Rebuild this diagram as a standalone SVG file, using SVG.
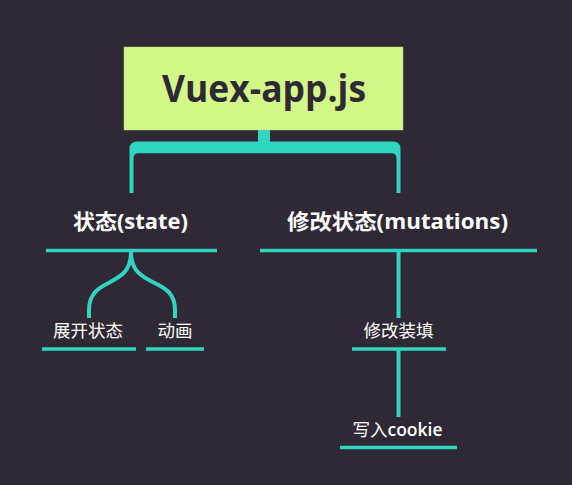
<svg xmlns="http://www.w3.org/2000/svg" width="572" height="485" viewBox="0 0 572 485">
<style>
.line{stroke:#2fd5c1;stroke-width:4;fill:none}
.ul{stroke:#2fd5c1;stroke-width:3.5;fill:none}
.t1{font-family:"Open Sans","Noto Sans CJK SC",sans-serif;font-weight:bold;font-size:21px;fill:#ffffff;text-anchor:middle}
.t2{font-family:"Open Sans","Noto Sans CJK SC",sans-serif;font-size:17.5px;fill:#ffffff;text-anchor:middle}
</style>
<rect width="572" height="485" fill="#2f2935"/>
<g id="connectors">
<path d="M129.5,193 V149 Q129.5,141.5 137,141.5 H258 V130 H270 V141.5 H393 Q400.5,141.5 400.5,149 V193 H396.5 V158.5 Q396.5,153.3 391.5,153.3 H138.5 Q133.5,153.3 133.5,158.5 V193 Z" fill="#2fd5c1"/>
<path class="line" d="M131,252 C131,290 89,275 89,310 V318"/>
<path class="line" d="M131,252 C131,290 175,275 175,310 V318"/>
<path class="line" d="M398.5,252 V318"/>
<path class="line" d="M398.5,350 V417"/>
</g>
<g id="root">
<rect x="124" y="47" width="279" height="83" fill="#d3f788" stroke="#b8d87a" stroke-width="0.5"/>
<text x="264" y="102" font-family="'Open Sans',sans-serif" font-weight="bold" font-size="38" fill="#2f2935" text-anchor="middle" textLength="204" lengthAdjust="spacingAndGlyphs">Vuex-app.js</text>
</g>
<g id="state">
<text class="t1" x="130.5" y="229" textLength="115" lengthAdjust="spacingAndGlyphs">状态(state)</text>
<line class="ul" x1="46" y1="250.5" x2="217" y2="250.5"/>
</g>
<g id="mutations">
<text class="t1" x="397.5" y="229" textLength="221" lengthAdjust="spacingAndGlyphs">修改状态(mutations)</text>
<line class="ul" x1="260" y1="250.5" x2="537" y2="250.5"/>
</g>
<g id="expand">
<text class="t2" x="88" y="336.5">展开状态</text>
<line class="ul" x1="42" y1="349" x2="136" y2="349"/>
</g>
<g id="anim">
<text class="t2" x="175" y="336.5">动画</text>
<line class="ul" x1="146" y1="349" x2="204" y2="349"/>
</g>
<g id="modify">
<text class="t2" x="398.5" y="336.5">修改装填</text>
<line class="ul" x1="352" y1="349" x2="446" y2="349"/>
</g>
<g id="cookie">
<text class="t2" x="397.5" y="436">写入<tspan font-weight="600">cookie</tspan></text>
<line class="ul" x1="340" y1="447.5" x2="457" y2="447.5"/>
</g>
</svg>
